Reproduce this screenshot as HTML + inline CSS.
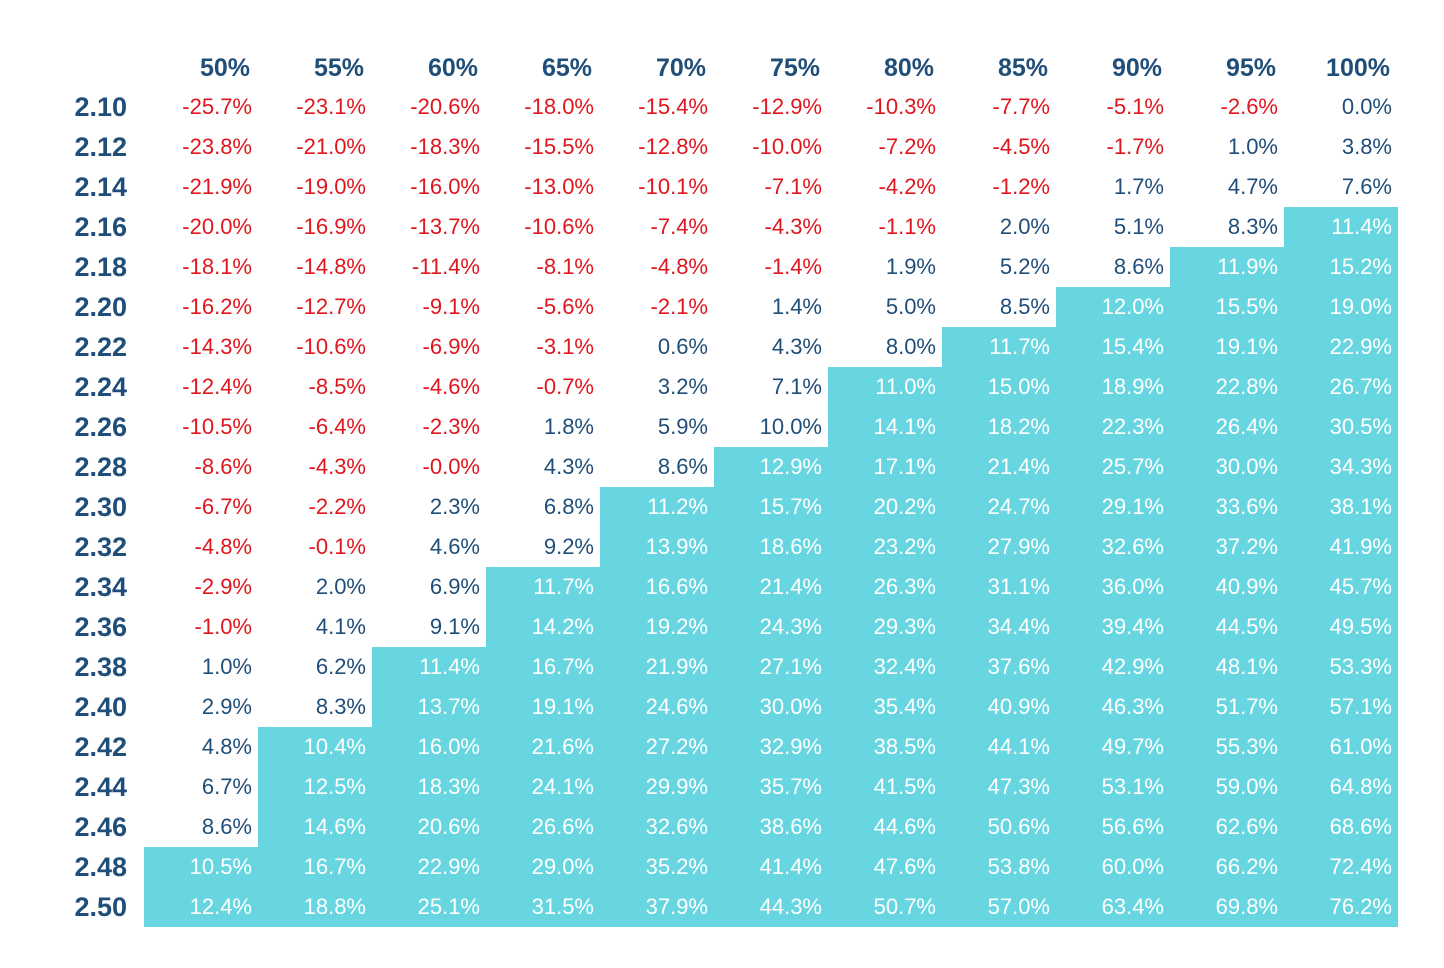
<!DOCTYPE html>
<html><head><meta charset="utf-8"><style>
body{margin:0;background:#fff;width:1444px;height:968px;overflow:hidden;font-family:"Liberation Sans",sans-serif}
table{position:absolute;left:16px;top:47px;border-collapse:collapse}
td,th{height:40px;width:114px;padding:0 6px 0 0;box-sizing:border-box;text-align:right;font-size:22px;color:#1f4e79;white-space:nowrap}
th{font-weight:bold;font-size:25px;color:#1f4e79;padding-right:8px}
tr:first-child th{height:40px;padding-top:2px}
td:first-child{width:128px;font-weight:bold;font-size:27px;padding-right:17px}
.n{color:#e0161e}.c{background:#67d6e0;color:#fff}
</style></head><body>
<table>
<tr><th style="width:128px"></th><th>50%</th><th>55%</th><th>60%</th><th>65%</th><th>70%</th><th>75%</th><th>80%</th><th>85%</th><th>90%</th><th>95%</th><th>100%</th></tr>
<tr><td>2.10</td><td class="n">-25.7%</td><td class="n">-23.1%</td><td class="n">-20.6%</td><td class="n">-18.0%</td><td class="n">-15.4%</td><td class="n">-12.9%</td><td class="n">-10.3%</td><td class="n">-7.7%</td><td class="n">-5.1%</td><td class="n">-2.6%</td><td>0.0%</td></tr>
<tr><td>2.12</td><td class="n">-23.8%</td><td class="n">-21.0%</td><td class="n">-18.3%</td><td class="n">-15.5%</td><td class="n">-12.8%</td><td class="n">-10.0%</td><td class="n">-7.2%</td><td class="n">-4.5%</td><td class="n">-1.7%</td><td>1.0%</td><td>3.8%</td></tr>
<tr><td>2.14</td><td class="n">-21.9%</td><td class="n">-19.0%</td><td class="n">-16.0%</td><td class="n">-13.0%</td><td class="n">-10.1%</td><td class="n">-7.1%</td><td class="n">-4.2%</td><td class="n">-1.2%</td><td>1.7%</td><td>4.7%</td><td>7.6%</td></tr>
<tr><td>2.16</td><td class="n">-20.0%</td><td class="n">-16.9%</td><td class="n">-13.7%</td><td class="n">-10.6%</td><td class="n">-7.4%</td><td class="n">-4.3%</td><td class="n">-1.1%</td><td>2.0%</td><td>5.1%</td><td>8.3%</td><td class="c">11.4%</td></tr>
<tr><td>2.18</td><td class="n">-18.1%</td><td class="n">-14.8%</td><td class="n">-11.4%</td><td class="n">-8.1%</td><td class="n">-4.8%</td><td class="n">-1.4%</td><td>1.9%</td><td>5.2%</td><td>8.6%</td><td class="c">11.9%</td><td class="c">15.2%</td></tr>
<tr><td>2.20</td><td class="n">-16.2%</td><td class="n">-12.7%</td><td class="n">-9.1%</td><td class="n">-5.6%</td><td class="n">-2.1%</td><td>1.4%</td><td>5.0%</td><td>8.5%</td><td class="c">12.0%</td><td class="c">15.5%</td><td class="c">19.0%</td></tr>
<tr><td>2.22</td><td class="n">-14.3%</td><td class="n">-10.6%</td><td class="n">-6.9%</td><td class="n">-3.1%</td><td>0.6%</td><td>4.3%</td><td>8.0%</td><td class="c">11.7%</td><td class="c">15.4%</td><td class="c">19.1%</td><td class="c">22.9%</td></tr>
<tr><td>2.24</td><td class="n">-12.4%</td><td class="n">-8.5%</td><td class="n">-4.6%</td><td class="n">-0.7%</td><td>3.2%</td><td>7.1%</td><td class="c">11.0%</td><td class="c">15.0%</td><td class="c">18.9%</td><td class="c">22.8%</td><td class="c">26.7%</td></tr>
<tr><td>2.26</td><td class="n">-10.5%</td><td class="n">-6.4%</td><td class="n">-2.3%</td><td>1.8%</td><td>5.9%</td><td>10.0%</td><td class="c">14.1%</td><td class="c">18.2%</td><td class="c">22.3%</td><td class="c">26.4%</td><td class="c">30.5%</td></tr>
<tr><td>2.28</td><td class="n">-8.6%</td><td class="n">-4.3%</td><td class="n">-0.0%</td><td>4.3%</td><td>8.6%</td><td class="c">12.9%</td><td class="c">17.1%</td><td class="c">21.4%</td><td class="c">25.7%</td><td class="c">30.0%</td><td class="c">34.3%</td></tr>
<tr><td>2.30</td><td class="n">-6.7%</td><td class="n">-2.2%</td><td>2.3%</td><td>6.8%</td><td class="c">11.2%</td><td class="c">15.7%</td><td class="c">20.2%</td><td class="c">24.7%</td><td class="c">29.1%</td><td class="c">33.6%</td><td class="c">38.1%</td></tr>
<tr><td>2.32</td><td class="n">-4.8%</td><td class="n">-0.1%</td><td>4.6%</td><td>9.2%</td><td class="c">13.9%</td><td class="c">18.6%</td><td class="c">23.2%</td><td class="c">27.9%</td><td class="c">32.6%</td><td class="c">37.2%</td><td class="c">41.9%</td></tr>
<tr><td>2.34</td><td class="n">-2.9%</td><td>2.0%</td><td>6.9%</td><td class="c">11.7%</td><td class="c">16.6%</td><td class="c">21.4%</td><td class="c">26.3%</td><td class="c">31.1%</td><td class="c">36.0%</td><td class="c">40.9%</td><td class="c">45.7%</td></tr>
<tr><td>2.36</td><td class="n">-1.0%</td><td>4.1%</td><td>9.1%</td><td class="c">14.2%</td><td class="c">19.2%</td><td class="c">24.3%</td><td class="c">29.3%</td><td class="c">34.4%</td><td class="c">39.4%</td><td class="c">44.5%</td><td class="c">49.5%</td></tr>
<tr><td>2.38</td><td>1.0%</td><td>6.2%</td><td class="c">11.4%</td><td class="c">16.7%</td><td class="c">21.9%</td><td class="c">27.1%</td><td class="c">32.4%</td><td class="c">37.6%</td><td class="c">42.9%</td><td class="c">48.1%</td><td class="c">53.3%</td></tr>
<tr><td>2.40</td><td>2.9%</td><td>8.3%</td><td class="c">13.7%</td><td class="c">19.1%</td><td class="c">24.6%</td><td class="c">30.0%</td><td class="c">35.4%</td><td class="c">40.9%</td><td class="c">46.3%</td><td class="c">51.7%</td><td class="c">57.1%</td></tr>
<tr><td>2.42</td><td>4.8%</td><td class="c">10.4%</td><td class="c">16.0%</td><td class="c">21.6%</td><td class="c">27.2%</td><td class="c">32.9%</td><td class="c">38.5%</td><td class="c">44.1%</td><td class="c">49.7%</td><td class="c">55.3%</td><td class="c">61.0%</td></tr>
<tr><td>2.44</td><td>6.7%</td><td class="c">12.5%</td><td class="c">18.3%</td><td class="c">24.1%</td><td class="c">29.9%</td><td class="c">35.7%</td><td class="c">41.5%</td><td class="c">47.3%</td><td class="c">53.1%</td><td class="c">59.0%</td><td class="c">64.8%</td></tr>
<tr><td>2.46</td><td>8.6%</td><td class="c">14.6%</td><td class="c">20.6%</td><td class="c">26.6%</td><td class="c">32.6%</td><td class="c">38.6%</td><td class="c">44.6%</td><td class="c">50.6%</td><td class="c">56.6%</td><td class="c">62.6%</td><td class="c">68.6%</td></tr>
<tr><td>2.48</td><td class="c">10.5%</td><td class="c">16.7%</td><td class="c">22.9%</td><td class="c">29.0%</td><td class="c">35.2%</td><td class="c">41.4%</td><td class="c">47.6%</td><td class="c">53.8%</td><td class="c">60.0%</td><td class="c">66.2%</td><td class="c">72.4%</td></tr>
<tr><td>2.50</td><td class="c">12.4%</td><td class="c">18.8%</td><td class="c">25.1%</td><td class="c">31.5%</td><td class="c">37.9%</td><td class="c">44.3%</td><td class="c">50.7%</td><td class="c">57.0%</td><td class="c">63.4%</td><td class="c">69.8%</td><td class="c">76.2%</td></tr>
</table>
</body></html>
